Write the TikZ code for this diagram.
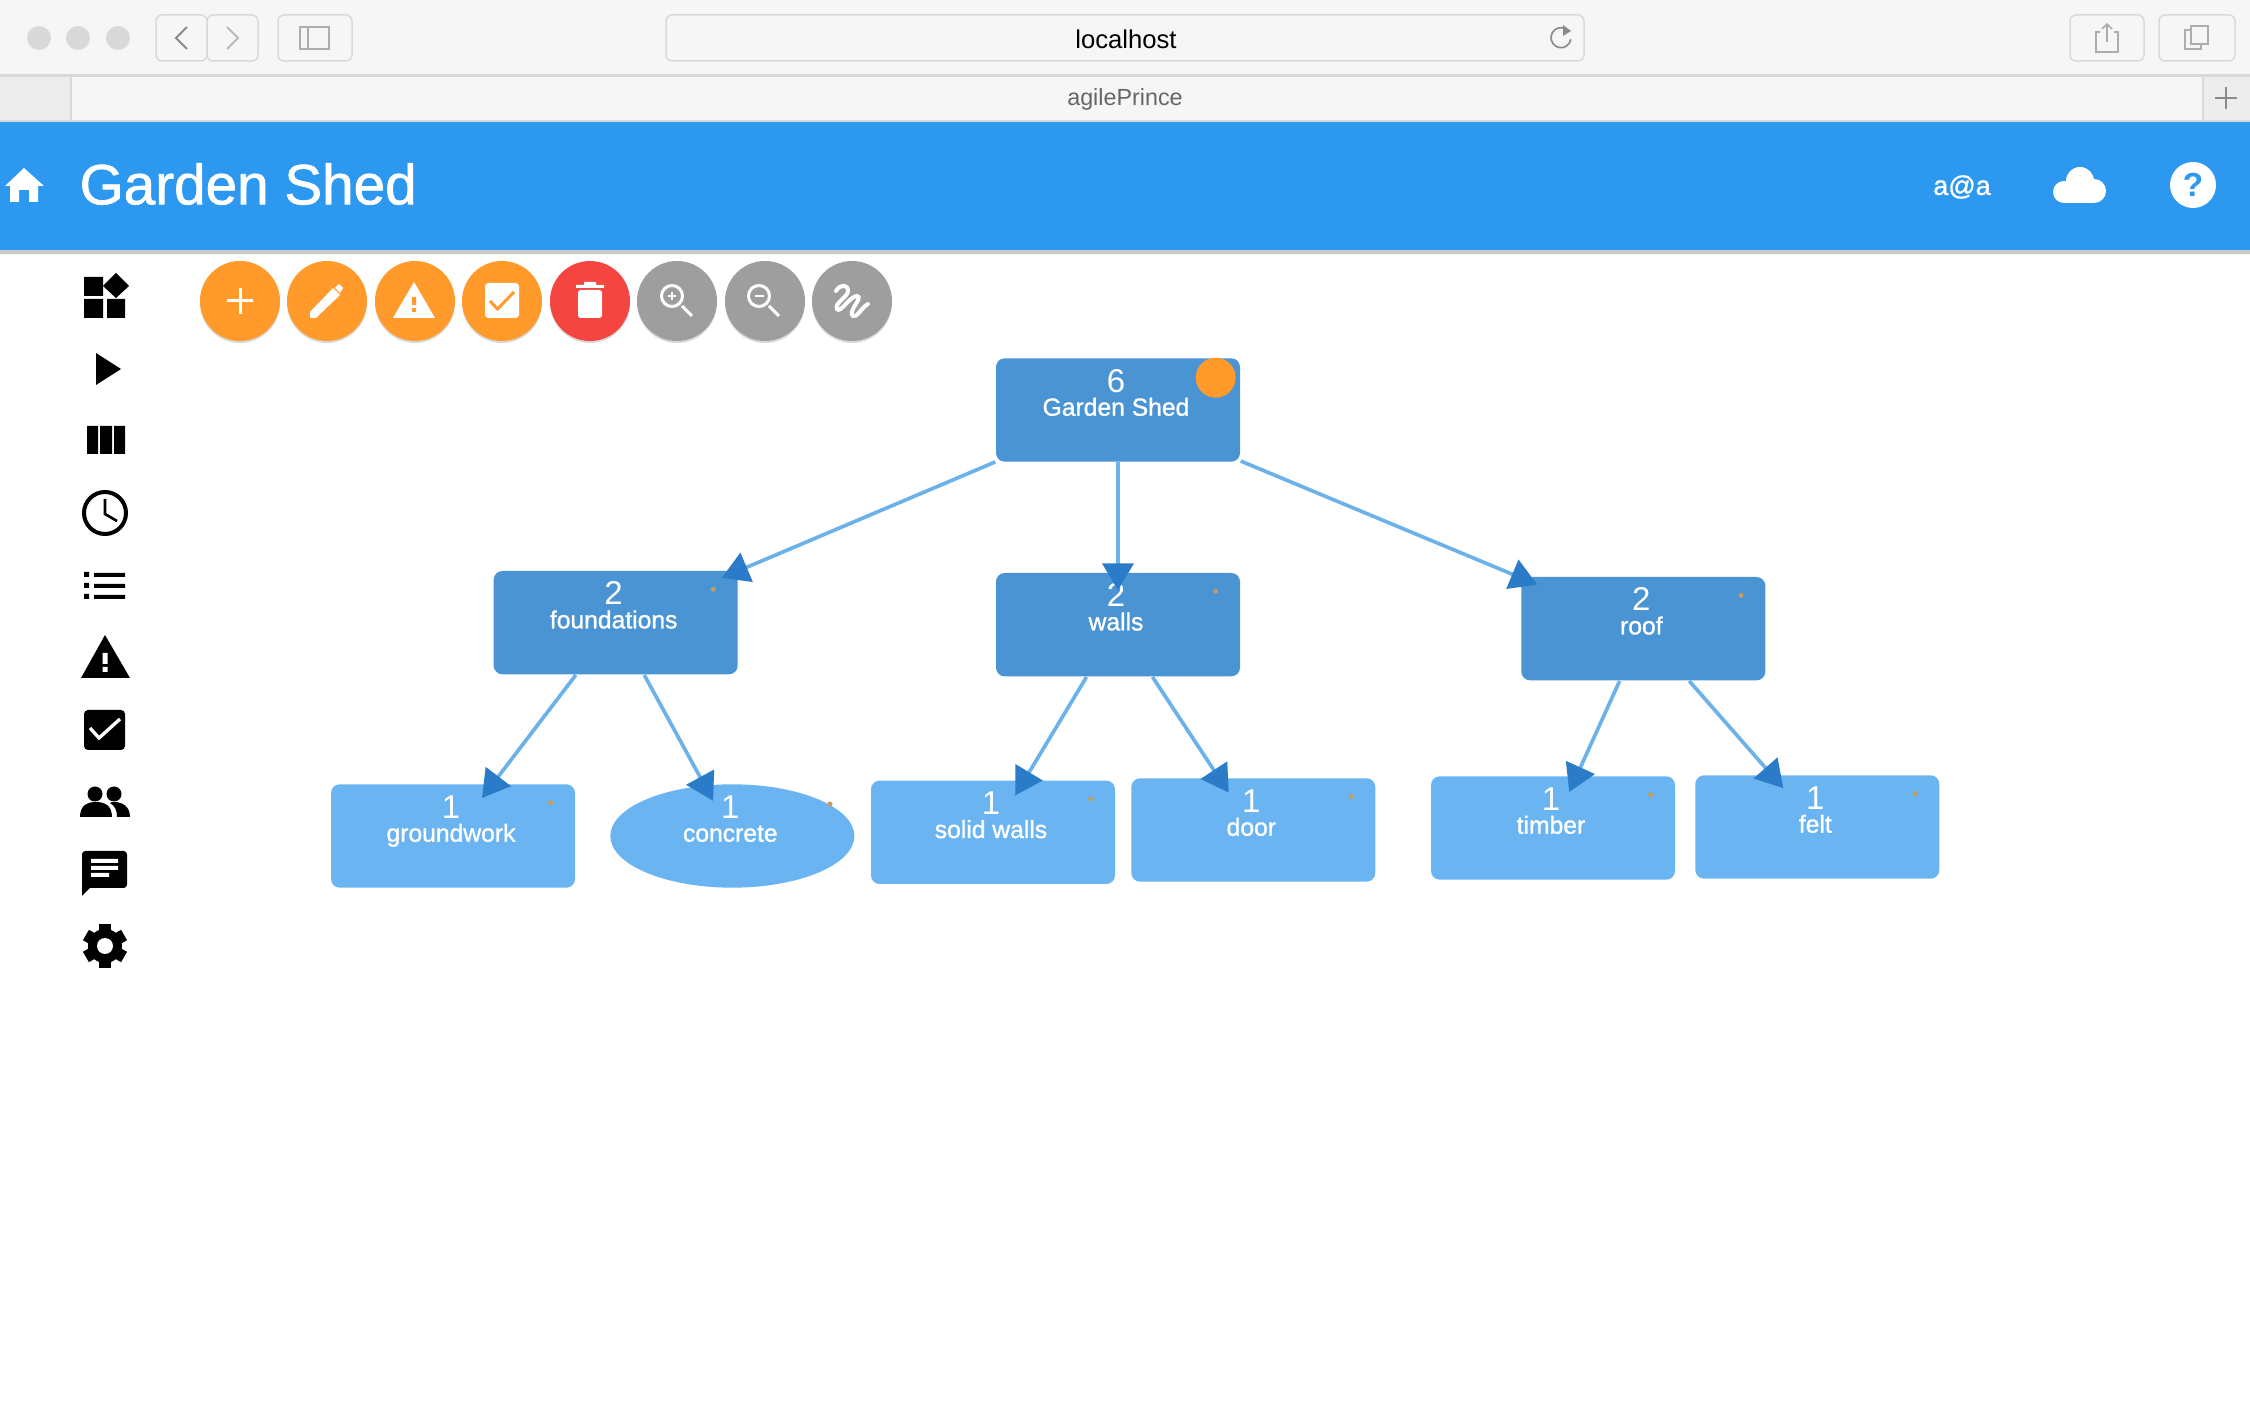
\documentclass[tikz,border=0pt]{standalone}
\usepackage{fontspec}
\setmainfont{Liberation Sans}
\usetikzlibrary{arrows.meta,positioning,shapes.geometric,shadows}
\definecolor{chrome}{HTML}{F6F6F6}
\definecolor{chromecell}{HTML}{EDEDED}
\definecolor{chromeline}{HTML}{D9D9D9}
\definecolor{chromeicon}{HTML}{8A8A8A}
\definecolor{header}{HTML}{2C98F0}
\definecolor{fabamber}{HTML}{FF9A2B}
\definecolor{fabred}{HTML}{F44540}
\definecolor{fabgrey}{HTML}{9E9E9E}
\definecolor{boxdark}{HTML}{4A94D4}
\definecolor{boxlight}{HTML}{6AB4F2}
\definecolor{linkblue}{HTML}{6CB2EA}
\definecolor{tipblue}{HTML}{2A7BC8}
\definecolor{dotbrown}{HTML}{C39C5F}
\newfontfamily\boxfont[FakeBold=1.2]{Liberation Sans}
\newcommand{\boxtext}[2]{#1\kern1.2pt\\{\fontsize{7.4}{7}\boxfont #2\kern1.2pt}}

\begin{document}
\begin{tikzpicture}[
    x=0.3pt, y=-0.3pt,
    navbtn/.style={draw=chromeline, fill=chrome, line width=0.45pt, rounded corners=1.8pt},
    chromestroke/.style={draw=chromeicon, line width=0.6pt},
    fab/.style={circle, minimum size=24pt, inner sep=0pt,
        drop shadow={opacity=0.3, shadow xshift=0pt, shadow yshift=-0.6pt}},
    fabstroke/.style={draw=white, line width=0.9pt},
    treebox/.style={rectangle, rounded corners=2.6pt, text=white, align=center, inner sep=0pt,
        minimum width=73.2pt, minimum height=31pt, text height=17.2pt, text depth=13.8pt,
        font=\fontsize{9.9}{7}\selectfont},
    parentbox/.style={treebox, fill=boxdark},
    leafbox/.style={treebox, fill=boxlight},
    ovalbox/.style={leafbox, ellipse, text height=12.6pt, text depth=9.2pt},
    link/.style={line width=1.1pt, draw=linkblue, shorten >=-5.4pt,
        -{Triangle[length=8.1pt, width=9.3pt, color=tipblue]}},
    marker/.style={circle, fill=dotbrown, inner sep=0pt, minimum size=1.5pt}
]
\useasboundingbox (0,0) rectangle (2250,1412);
\fill[white] (0,0) rectangle (2250,1412);

% Browser window
\fill[chrome] (0,0) rectangle (2250,75);
\fill[chromeline] (0,74) rectangle (2250,77);
\fill[chrome] (0,77) rectangle (2250,120);
\fill[chromecell] (0,77) rectangle (71,120);
\fill[chromecell] (2203,77) rectangle (2250,120);
\draw[chromeline, line width=0.4pt] (71,77) -- (71,120) (2203,77) -- (2203,120);
\fill[chromeline] (0,120) rectangle (2250,122);
\foreach \px in {39,78,118}
    \fill[chromeline] (\px,38) circle[radius=12];
\draw[navbtn] (156,15) rectangle (207,61);
\draw[navbtn] (207,15) rectangle (258,61);
\draw[navbtn] (278,15) rectangle (352,61);
\draw[navbtn] (666,15) rectangle (1584,61);
\draw[navbtn] (2070,15) rectangle (2144,61);
\draw[navbtn] (2159,15) rectangle (2235,61);
\draw[chromestroke] (187,27) -- (176,38) -- (187,49);
\draw[chromestroke, draw=chromeicon!60] (227,27) -- (238,38) -- (227,49);
\draw[chromestroke, draw=chromeicon!70, line width=0.5pt] (300,27) rectangle (329,49) (308,27) -- (308,49);
\draw[chromestroke, line width=0.5pt] (1566,29) arc[start angle=-60, delta angle=-290, radius=10];
\fill[chromeicon] (1563,25) -- (1571,31) -- (1563,36) -- cycle;
\draw[chromestroke, draw=chromeicon!70, line width=0.5pt] (2100,32) -- (2096,32) -- (2096,52) -- (2118,52) -- (2118,32) -- (2114,32) (2107,42) -- (2107,24) (2102,29) -- (2107,24) -- (2112,29);
\draw[chromestroke, draw=chromeicon!70, line width=0.5pt] (2191,30) -- (2185,30) -- (2185,49) -- (2201,49) -- (2201,44) (2191,26) rectangle (2208,44);
\draw[chromestroke, line width=0.4pt] (2215,98) -- (2237,98) (2226,87) -- (2226,109);
\node[font=\fontsize{7.7}{9}\selectfont] (urltext) at (1126,39) {localhost};
\node[font=\fontsize{7}{9}\selectfont, text=black!60] (tabtext) at (1125,99) {agilePrince};

% Header
\fill[header, drop shadow={opacity=0.4, shadow xshift=0pt, shadow yshift=-1.2pt}] (0,122) rectangle (2250,250);
\fill[white] (5,186) -- (24,168) -- (44,186) -- (38,186) -- (38,202) -- (29,202) -- (29,190) -- (19,190) -- (19,202) -- (10,202) -- (10,186) -- cycle;
\node[anchor=west, inner sep=0pt, text=white, font=\fontsize{17}{20}\boxfont] (title) at (79,184) {Garden Shed};
\node[text=white, font=\fontsize{8.1}{10}\boxfont] (user) at (1962,187) {a@a};
\fill[white] (2080,181) circle[radius=14];
\fill[white] (2064,192) circle[radius=11];
\fill[white] (2094,191) circle[radius=12];
\fill[white] (2064,185) rectangle (2094,203);
\node[circle, fill=white, minimum size=13.8pt, inner sep=0pt, text=header, font=\fontsize{10}{12}\selectfont\bfseries] (help) at (2193,185) {?};

% Side menu
\fill (84,277) rectangle (103,296) (84,299) rectangle (103,318) (107,299) rectangle (125,318);
\fill (116,273) -- (129,286) -- (116,298) -- (103,286) -- cycle;
\fill (96,353) -- (121,369) -- (96,385) -- cycle;
\fill (87,426) rectangle (98,454) (100,426) rectangle (112,454) (114,426) rectangle (125,454);
\draw[line width=1.2pt] (105,513) circle[radius=21];
\draw[line width=0.8pt] (105,499) -- (105,514) -- (117,521);
\fill (84,572) rectangle (89,577) (84,583) rectangle (89,588) (84,594) rectangle (89,599);
\fill (94,573) rectangle (125,577) (94,584) rectangle (125,588) (94,595) rectangle (125,599);
\fill (81,678) -- (105,635) -- (130,678) -- cycle;
\fill[white] (102.5,653) rectangle (107.5,664) (102.5,667) rectangle (107.5,672);
\fill[rounded corners=1.2pt] (84,710) rectangle (125,750);
\draw[white, line width=1pt] (90,728) -- (99,738) -- (120,719);
\fill (95,794) circle[radius=7.5] (114,794) circle[radius=7.5];
\fill (80,817) .. controls (80,805) and (88,802) .. (96,802) .. controls (104,802) and (112,805) .. (112,817) -- cycle;
\fill (117,817) -- (130,817) .. controls (130,806) and (122,802) .. (114,802) .. controls (113,802) and (111,802) .. (110,803) .. controls (115,806) and (117,810) .. (117,817) -- cycle;
\fill[rounded corners=1pt] (82,851) rectangle (127,888);
\fill (82,870) -- (82,896) -- (92,886) -- cycle;
\fill[white] (91,859) rectangle (118,863) (91,866) rectangle (118,870) (91,873) rectangle (109,877);
\foreach \ang in {0,60,120}
    \fill[rotate around={\ang:(105,946)}] (99,924) rectangle (111,968);
\fill (105,946) circle[radius=17];
\fill[white] (105,946) circle[radius=8];

% Action buttons
\node[fab, fill=fabamber] (addbtn) at (240,301) {};
\node[fab, fill=fabamber] (editbtn) at (327,301) {};
\node[fab, fill=fabamber] (riskbtn) at (415,301) {};
\node[fab, fill=fabamber] (donebtn) at (502,301) {};
\node[fab, fill=fabred] (delbtn) at (590,301) {};
\node[fab, fill=fabgrey] (inbtn) at (677,301) {};
\node[fab, fill=fabgrey] (outbtn) at (765,301) {};
\node[fab, fill=fabgrey] (drawbtn) at (852,301) {};
\draw[fabstroke] (227,301) -- (253,301) (240,288) -- (240,314);
\fill[white] (310,318) -- (310,312) -- (333,288) -- (340,295) -- (316,318) -- cycle;
\fill[white] (335,288) -- (339,284) -- (343,288) -- (340,293) -- cycle;
\fill[white] (393,318) -- (414,282) -- (435,318) -- cycle;
\fill[fabamber] (412,297) rectangle (416,305) (412,308) rectangle (416,312);
\fill[white, rounded corners=1pt] (485,283) rectangle (519,318);
\draw[fabamber, line width=0.9pt] (490,301) -- (497.5,309) -- (514,292);
\fill[white, rounded corners=0.8pt] (578,290) rectangle (602,318);
\fill[white] (576,285) rectangle (604,288) (584,282) rectangle (596,285);
\draw[fabstroke] (672,296) circle[radius=10.5] (682,306) -- (692,316);
\draw[fabstroke, line width=0.35pt] (668,296) -- (676,296) (672,292) -- (672,300);
\draw[fabstroke] (759,296) circle[radius=10.5] (769,306) -- (779,316);
\draw[fabstroke, line width=0.35pt] (755,296) -- (764,296);
\draw[fabstroke, line width=1.2pt, line cap=round] (836,291) .. controls (840,284) and (848,284) .. (848,291) .. controls (848,297) and (834,303) .. (837,309) .. controls (840,314) and (850,296) .. (857,296) .. controls (864,297) and (847,312) .. (853,316) .. controls (857,318) and (861,308) .. (868,304);

% Tree boxes
\node[parentbox] (root) at (1118,410) {\boxtext{6}{Garden Shed}};
\node[parentbox, below left=32.4pt and 77.1pt of root] (foundations) {\boxtext{2}{foundations}};
\node[parentbox, below=33pt of root] (walls) {\boxtext{2}{walls}};
\node[parentbox, below right=34.2pt and 84pt of root] (roof) {\boxtext{2}{roof}};

\node[leafbox, below=32.6pt of foundations, xshift=-48.8pt] (groundwork) {\boxtext{1}{groundwork}};
\node[ovalbox, right=10.2pt of groundwork] (concrete) {\boxtext{1}{concrete}};
\node[leafbox, below=30.9pt of walls, xshift=-37.5pt] (solid) {\boxtext{1}{solid walls}};
\node[leafbox, right=4.5pt of solid, yshift=0.7pt] (door) {\boxtext{1}{door}};
\node[leafbox, below=28.4pt of roof, xshift=-27.1pt] (timber) {\boxtext{1}{timber}};
\node[leafbox, right=5.7pt of timber, yshift=0.3pt] (felt) {\boxtext{1}{felt}};

% Links
\draw[link] (root) -- (foundations);
\draw[link] (root) -- (walls);
\draw[link] (root) -- (roof);
\draw[link] (foundations) -- (groundwork);
\draw[link] (foundations) -- (concrete);
\draw[link] (walls) -- (solid);
\draw[link] (walls) -- (door);
\draw[link] (roof) -- (timber);
\draw[link] (roof) -- (felt);

% Status markers
\node[circle, fill=fabamber, minimum size=12pt, inner sep=0pt] (rootmark) at ([xshift=-7.5pt,yshift=-6pt]root.north east) {};
\foreach \item in {foundations,walls,roof,groundwork,solid,door,timber,felt}
    \node[marker] (\item mark) at ([xshift=-7.5pt,yshift=-5.7pt]\item.north east) {};
\node[marker] (concretemark) at ([xshift=-7.5pt,yshift=9.6pt]concrete.east) {};

\end{tikzpicture}
\end{document}
